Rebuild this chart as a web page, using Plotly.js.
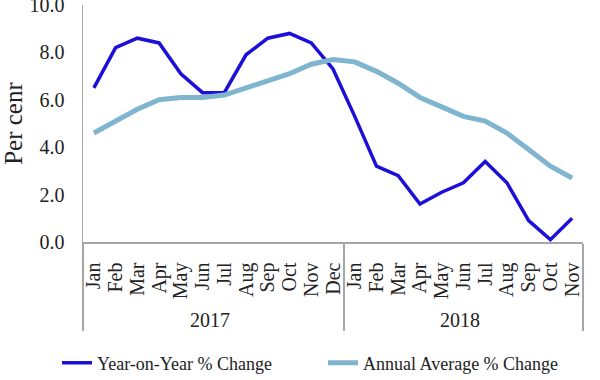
<!DOCTYPE html>
<html>
<head>
<meta charset="utf-8">
<script src="https://cdn.plot.ly/plotly-3.0.1.min.js"></script>
<style>html,body{margin:0;padding:0;background:#fff;}#chart{width:600px;height:380px;}</style>
</head>
<body>
<div id="chart"></div>
<script>
var years = ["2017","2017","2017","2017","2017","2017","2017","2017","2017","2017","2017","2017",
             "2018","2018","2018","2018","2018","2018","2018","2018","2018","2018","2018"];
var months = ["Jan","Feb","Mar","Apr","May","Jun","Jul","Aug","Sep","Oct","Nov","Dec",
              "Jan","Feb","Mar","Apr","May","Jun","Jul","Aug","Sep","Oct","Nov"];
var yoyChange = [6.5,8.2,8.6,8.4,7.1,6.3,6.3,7.9,8.6,8.8,8.4,7.3,
                 5.3,3.2,2.8,1.6,2.1,2.5,3.4,2.5,0.9,0.1,1.0];
var annualAvgChange = [4.6,5.1,5.6,6.0,6.1,6.1,6.2,6.5,6.8,7.1,7.5,7.7,
                       7.6,7.2,6.7,6.1,5.7,5.3,5.1,4.6,3.9,3.2,2.7];
var yTicks = [0,2,4,6,8,10];
var yTickText = ["0.0","2.0","4.0","6.0","8.0","10.0"];

var font = "Liberation Serif";
var traces = [
  {x:[years, months], y:yoyChange, type:"scatter", mode:"lines", name:"Year-on-Year % Change",
   line:{color:"#1c0fd8", width:3.5}},
  {x:[years, months], y:annualAvgChange, type:"scatter", mode:"lines", name:"Annual Average % Change",
   line:{color:"#7fb5ce", width:5}}
];
var layout = {
  width:600, height:380,
  margin:{l:83, r:17, t:5, b:138, autoexpand:false},
  paper_bgcolor:"#fff", plot_bgcolor:"#fff",
  font:{family:font, color:"#222", size:19},
  showlegend:true,
  legend:{orientation:"h", x:-0.052, xanchor:"left", y:-0.511, yanchor:"middle",
          entrywidth:221, entrywidthmode:"pixels",
          font:{family:font, size:18, color:"#222"}, traceorder:"normal"},
  xaxis:{type:"multicategory", range:[-0.5,22.5], dtick:1, tick0:0, automargin:false,
         showline:true, linecolor:"#a6a6a6", linewidth:1.5,
         mirror:false, showgrid:false, ticks:"", tickangle:-90, ticklabelstandoff:11,
         tickfont:{family:font, size:20, color:"#222"},
         showdividers:true, dividercolor:"#a6a6a6", dividerwidth:1.5},
  yaxis:{range:[0,10], tickvals:yTicks, ticktext:yTickText, automargin:false,
         showline:true, ticklabeloverflow:"allow", ticklabelstandoff:13,
         linecolor:"#a6a6a6", linewidth:1.5, showgrid:false, zeroline:false, ticks:"",
         tickfont:{family:font, size:20, color:"#222"},
         title:{text:"Per cenr", font:{family:font, size:25, color:"#222"}, standoff:0}}
};
Plotly.newPlot("chart", traces, layout, {displayModeBar:false, staticPlot:true});
</script>
</body>
</html>
